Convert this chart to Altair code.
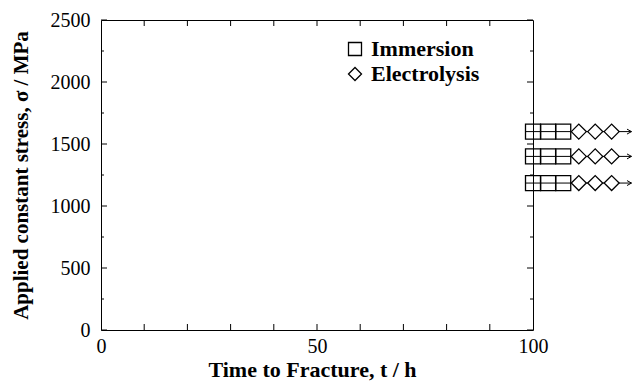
import altair as alt
import pandas as pd

# Run-out specimens (no fracture within 100 h), shown side by side at each stress level
stress_levels = [1600, 1400, 1185]
immersion_hours = [100.0, 103.5, 107.0]
electrolysis_hours = [110.6, 114.4, 118.2]
arrow_from = [98.3, 98.3, 98.3]
arrow_to = [122.8, 122.8, 122.8]

# Axis tick values
x_label_values = [0, 50, 100]
x_minor_values = [10, 20, 30, 40, 50, 60, 70, 80, 90]
y_major_values = [0, 500, 1000, 1500, 2000, 2500]
y_minor_values = [250, 750, 1250, 1750, 2250]

W, H = 432, 310
FONT = "Liberation Serif"

rows = []
for s in stress_levels:
    for t in immersion_hours:
        rows.append({"t": t, "s": s, "method": "Immersion"})
    for t in electrolysis_hours:
        rows.append({"t": t, "s": s, "method": "Electrolysis"})
points = pd.DataFrame(rows)
arrows = pd.DataFrame({"s": stress_levels, "x0": arrow_from, "x1": arrow_to})

xs = alt.Scale(domain=[0, 100], nice=False)
ys = alt.Scale(domain=[0, 2500], nice=False)

x_axis = alt.Axis(
    values=x_label_values, format="d", ticks=False, domain=False, grid=False,
    labelFont=FONT, labelFontSize=20, labelColor="black", labelPadding=6,
    labelFlush=False, labelOverlap=False,
    title="Time to Fracture, t / h", titleFont=FONT, titleFontSize=22,
    titleFontWeight="bold", titleColor="black",
    titleX=211, titleY=46, titleBaseline="alphabetic", titleAlign="center",
)
y_axis = alt.Axis(
    values=y_major_values, format="d", ticks=False, domain=False, grid=False,
    labelFont=FONT, labelFontSize=20, labelColor="black", labelPadding=11,
    labelOverlap=False,
    title="Applied constant stress, σ / MPa", titleFont=FONT, titleFontSize=21,
    titleFontWeight="bold", titleColor="black",
    titleX=-74, titleY=155, titleAngle=270, titleBaseline="alphabetic",
    titleAlign="center",
)

legend = alt.Legend(
    title=None, orient="none", legendX=243, legendY=18, padding=0,
    labelFont=FONT, labelFontSize=22, labelFontWeight="bold", labelColor="black",
    symbolSize=169, symbolStrokeColor="black", symbolStrokeWidth=1.3,
    labelOffset=5, rowPadding=3,
)

def X(field):
    return alt.X(field, scale=xs, axis=x_axis)

def Y(field):
    return alt.Y(field, scale=ys, axis=y_axis)

# Run-out arrows
lines = alt.Chart(arrows).mark_rule(color="black", strokeWidth=1, clip=False).encode(
    x=X("x0:Q"), x2="x1:Q", y=Y("s:Q"),
)
heads = alt.Chart(arrows).mark_point(
    shape="M-1,-0.55L0,0L-1,0.55", size=81, filled=False,
    color="black", strokeWidth=1, clip=False, opacity=1,
).encode(x=X("x1:Q"), y=Y("s:Q"))

# White backing under the diamonds so the arrow line does not show through them
diamond_fill = alt.Chart(points).transform_filter(
    alt.datum.method == "Electrolysis"
).mark_point(
    shape="diamond", filled=True, color="white", size=225, clip=False, opacity=1,
).encode(x=X("t:Q"), y=Y("s:Q"))

markers = alt.Chart(points).mark_point(
    filled=False, color="black", strokeWidth=1.3, size=225, clip=False, opacity=1,
).encode(
    x=X("t:Q"),
    y=Y("s:Q"),
    shape=alt.Shape(
        "method:N",
        scale=alt.Scale(domain=["Immersion", "Electrolysis"], range=["square", "diamond"]),
        legend=legend,
    ),
)

# Inward-pointing ticks on all four sides of the frame
def y_ticks(values, x_a, x_b):
    return alt.Chart(pd.DataFrame({"v": values})).mark_rule(color="black", strokeWidth=1).encode(
        y=Y("v:Q"), x=alt.value(x_a), x2=alt.value(x_b)
    )

def x_ticks(values, y_a, y_b):
    return alt.Chart(pd.DataFrame({"v": values})).mark_rule(color="black", strokeWidth=1).encode(
        x=X("v:Q"), y=alt.value(y_a), y2=alt.value(y_b)
    )

ticks = [
    y_ticks(y_major_values, 0, 6),
    y_ticks(y_minor_values, 0, 3),
    y_ticks(y_major_values, W, W - 6),
    y_ticks(y_minor_values, W, W - 3),
    x_ticks(x_minor_values, H, H - 6),
    x_ticks(x_minor_values, 0, 6),
]

chart = alt.layer(lines, *ticks, diamond_fill, markers, heads).properties(
    width=W, height=H,
    padding={"left": 101, "top": 20, "right": 106, "bottom": 51},
    autosize=alt.AutoSizeParams(type="none"),
    background="white",
).configure_view(stroke="black", strokeWidth=1)

chart.save("out.html", embed_options={"renderer": "svg", "actions": False})
